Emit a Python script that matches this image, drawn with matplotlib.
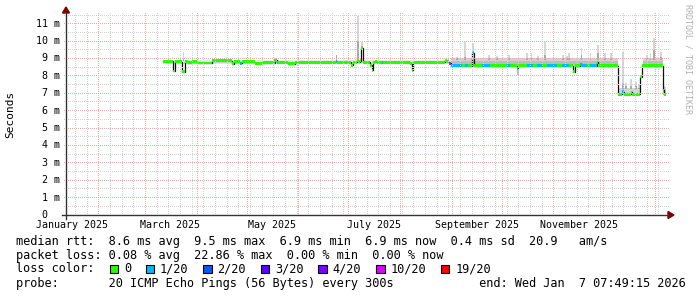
import numpy as np
import matplotlib
matplotlib.use("Agg")
import matplotlib.pyplot as plt
from matplotlib import transforms
from matplotlib.colors import to_rgb
from matplotlib.patches import Polygon, Rectangle

# time is counted in days from 2025-01-01 00:00 (local time)
end_day = 371 + (7 * 3600 + 49 * 60 + 15) / 86400.0
span_days = 360

# median rtt (ms), as steps: start day, value, loss index
med_start = [69.5, 75.5, 76.7, 77.9, 80.9, 82.7, 84.5, 86.9, 89.9, 98.9,
             110.9, 112.1, 115.7, 116.9, 124.7, 128.9, 136.7, 137.9, 138.5, 144.5,
             148.7, 173.3, 173.9, 182.3, 183.5, 185.9, 186.5, 187.7, 188.3, 189.5,
             193.7, 194.9, 195.5, 196.7, 197.9, 201.2, 201.8, 217.7, 218.9, 219.5,
             238.7, 239.9, 241.1, 242.3, 248.9, 250.7, 252.5, 254.9, 255.9, 260.9,
             265.7, 276.0, 278.0, 281.7, 282.7, 287.7, 291.7, 294.0, 297.0, 300.0,
             306.0, 309.0, 313.0, 315.7, 316.7, 319.7, 320.7, 324.0, 326.0, 329.7,
             330.7, 342.7, 345.1, 345.9, 350.3, 351.1, 355.7, 356.7, 369.3, 369.9]
med_ms = [8.83, 8.28, 8.85, 8.81, 8.24, 8.81, 8.75, 8.81, 8.74, 8.87,
          8.70, 8.80, 8.72, 8.80, 8.72, 8.76, 8.90, 8.77, 8.77, 8.70,
          8.77, 8.85, 8.77, 8.62, 8.77, 8.87, 8.80, 8.87, 9.60, 8.77,
          8.62, 8.33, 8.77, 8.85, 8.77, 8.77, 8.77, 8.70, 8.33, 8.77,
          8.87, 8.80, 8.72, 8.58, 8.58, 8.58, 8.58, 9.33, 8.58, 8.58,
          8.58, 8.58, 8.58, 8.43, 8.58, 8.58, 8.58, 8.58, 8.58, 8.58,
          8.58, 8.58, 8.58, 8.24, 8.58, 8.66, 8.58, 8.58, 8.58, 8.78,
          8.58, 6.94, 7.10, 6.94, 7.05, 6.94, 7.95, 8.58, 7.18, 6.94]
med_loss = [0, 0, 0, 0, 0, 0, 0, 0, 0, 0,
            0, 0, 1, 0, 0, 0, 0, 1, 0, 0,
            0, 1, 0, 0, 0, 0, 0, 0, 0, 0,
            0, 0, 0, 0, 0, 1, 0, 0, 0, 0,
            0, 0, 5, 1, 0, 1, 0, 1, 0, 1,
            0, 1, 0, 1, 0, 1, 0, 1, 0, 1,
            0, 1, 0, 0, 0, 1, 1, 0, 1, 0,
            0, 0, 1, 0, 0, 0, 0, 0, 0, 0]

# smoke bands (ms)
smoke_start = [69.5, 242.3, 242.3, 281.7, 342.7, 357.3, 357.3, 369.3]
smoke_end = [242.3, 342.7, 342.7, 283.3, 355.7, 369.3, 369.3, 371.3]
smoke_lo = [8.70, 8.50, 8.55, 8.05, 6.88, 8.52, 8.55, 6.88]
smoke_hi = [8.93, 9.05, 8.88, 8.55, 7.30, 9.05, 8.88, 7.35]
smoke_gray = ["#e6e6e6", "#d2d2d2", "#bcbcbc", "#b8b8b8", "#d4d4d4", "#d2d2d2", "#bcbcbc", "#d0d0d0"]

# smoke spikes (ms)
spike_day = [81.8, 136.9, 173.6, 186.7, 188.9, 245.9, 250.8, 255.4, 265.1, 270.0,
             277.1, 288.0, 290.7, 294.5, 298.7, 309.5, 312.0, 313.0, 320.7, 326.0,
             330.7, 334.7, 338.5, 345.5, 347.5, 350.5, 353.5, 355.0, 360.0, 362.0,
             364.2, 368.3, 370.5]
spike_base = [8.85, 8.85, 8.85, 8.85, 9.60, 8.90, 8.90, 9.33, 8.90, 8.90,
              8.90, 8.90, 8.90, 8.90, 8.90, 8.90, 8.90, 8.90, 8.90, 8.90,
              8.90, 8.90, 8.90, 7.25, 7.25, 7.25, 7.25, 7.25, 8.90, 8.90,
              8.90, 8.90, 7.20]
spike_top = [9.38, 9.02, 9.20, 11.45, 9.95, 9.10, 9.96, 9.90, 9.20, 9.15,
             9.20, 9.30, 9.30, 9.15, 9.96, 9.20, 9.15, 9.30, 9.60, 9.30,
             9.80, 9.30, 9.30, 9.40, 7.60, 7.80, 7.65, 7.50, 9.20, 9.30,
             10.20, 9.38, 7.40]
spike_dark = [8.95, 8.95, 9.20, 10.00, 9.70, 9.00, 9.10, 9.40, 9.00, 9.00,
              9.00, 9.00, 9.00, 9.00, 9.20, 9.00, 9.00, 9.00, 9.20, 9.00,
              9.30, 9.00, 9.00, 7.60, 7.40, 7.40, 7.40, 7.30, 9.00, 9.00,
              9.50, 9.10, 7.25]

loss_labels = ["0", "1/20", "2/20", "3/20", "4/20", "10/20", "19/20"]
loss_colors = ["#26ff00", "#00b8ff", "#0059ff", "#5e00ff", "#7e00ff", "#dd00ff", "#ff0000"]

legend_lines = [
    "median rtt:  8.6 ms avg  9.5 ms max  6.9 ms min  6.9 ms now  0.4 ms sd  20.9   am/s",
    "packet loss: 0.08 % avg  22.86 % max  0.00 % min  0.00 % now",
    "loss color:",
    "probe:       20 ICMP Echo Pings (56 Bytes) every 300s            end: Wed Jan  7 07:49:15 2026",
]

y_max = 11.5
y_major = list(range(0, 12))
y_labels = [" 0"] + ["%2d m" % v for v in y_major[1:]]

W, H = 697, 297
MONO = "DejaVu Sans Mono"
AXIS_C = "#333333"
ARROW_C = "#7f0000"
GRID_C = "#d2d2d2"
MGRID_C = "#f0a8a8"


def fx(px):
    return px / W


def fy(py):
    return 1 - py / H


fig = plt.figure(figsize=(W / 100, H / 100), dpi=100, facecolor="white")
ax = fig.add_axes([fx(66), fy(215), 600 / W, 200 / H])
ax.patch.set_alpha(0)
x0 = end_day - span_days
ax.set_xlim(x0, end_day)
ax.set_ylim(0, y_max)
for s in ax.spines.values():
    s.set_visible(False)
ax.set_xticks([])
ax.set_yticks([])

# dotted grid (1 px on / 1 px off), painted pixel by pixel under the axes
months = np.arange("2025-01", "2026-02", dtype="datetime64[M]")
month_day = (months.astype("datetime64[D]") - np.datetime64("2025-01-01")).astype(int)
weeks = np.arange(3, end_day, 7)  # Saturdays
grid_img = np.zeros((H, W, 4))


def col_of(d):
    return int(np.floor(ax.transData.transform((d, 0))[0]))


def row_of(v):
    return int(np.floor(H - ax.transData.transform((x0, v))[1]))


def vdots(d, color):
    c = col_of(d)
    rows = np.arange(13, 215, 2)
    grid_img[rows, c, :3] = to_rgb(color)
    grid_img[rows, c, 3] = 1


def hdots(v, color):
    r = row_of(v)
    cols = np.arange(64, 669, 2)
    grid_img[r, cols, :3] = to_rgb(color)
    grid_img[r, cols, 3] = 1


for d in weeks:
    if d > x0:
        vdots(d, GRID_C)
for v in np.arange(0.5, y_max + 0.01, 1.0):
    hdots(v, GRID_C)
for d in month_day:
    if d > x0:
        vdots(d, MGRID_C)
for v in y_major[1:]:
    hdots(v, MGRID_C)
fig.figimage(grid_img, xo=0, yo=0, origin="upper", zorder=0)

# smoke
s_start = np.array(smoke_start)
s_end = np.array(smoke_end)
ax.bar(s_start, np.array(smoke_hi) - np.array(smoke_lo), width=s_end - s_start,
       bottom=smoke_lo, align="edge", color=smoke_gray, linewidth=0, zorder=2)
sp_day = np.array(spike_day)
ax.bar(sp_day, np.array(spike_top) - np.array(spike_base), width=1.0, bottom=spike_base,
       color="#d6d6d6", linewidth=0, zorder=2.1)
ax.bar(sp_day, np.array(spike_dark) - np.array(spike_base), width=1.0, bottom=spike_base,
       color="#a8a8a8", linewidth=0, zorder=2.2)

# median line and loss-coloured band
m_start = np.array(med_start)
m_end = np.append(m_start[1:], end_day)
m_val = np.array(med_ms)
ax.plot(np.append(m_start, end_day), np.append(m_val, m_val[-1]), drawstyle="steps-post",
        color="#101010", lw=0.9, zorder=3)
half = 0.085
ax.bar(m_start, 2 * half, width=m_end - m_start, bottom=m_val - half, align="edge",
       color=[loss_colors[i] for i in med_loss], linewidth=0, zorder=4)

# axes with arrows
fig.add_artist(plt.Line2D([fx(62), fx(669)], [fy(215), fy(215)], color=AXIS_C, lw=1.0))
fig.add_artist(plt.Line2D([fx(66), fx(66)], [fy(219), fy(12)], color=AXIS_C, lw=1.0))
fig.add_artist(Polygon([(fx(668), fy(211.5)), (fx(668), fy(218.5)), (fx(674), fy(215))],
                       closed=True, color=ARROW_C, transform=fig.transFigure))
fig.add_artist(Polygon([(fx(62.5), fy(13)), (fx(69.5), fy(13)), (fx(66), fy(7))],
                       closed=True, color=ARROW_C, transform=fig.transFigure))

# y tick labels
ty = transforms.blended_transform_factory(fig.transFigure, ax.transData)
for v, lab in zip(y_major, y_labels):
    ax.text(fx(36), v, lab, transform=ty, ha="left", va="center",
            family=MONO, fontsize=7.2, color="black")

# x labels, centred half a month after the month start
tx = transforms.blended_transform_factory(ax.transData, fig.transFigure)
for m, d in zip(months[::2], month_day[::2]):
    if d + 15 > end_day:
        continue
    name = m.astype(object).strftime("%B %Y")
    ax.text(d + 15, fy(225), name, transform=tx, ha="center", va="center",
            family=MONO, fontsize=7.2, color="black", clip_on=False)

fig.text(fx(10), fy(114), "Seconds", rotation=90, ha="center", va="center",
         family=MONO, fontsize=8, color="black")
fig.text(fx(688), fy(4), "RRDTOOL / TOBI OETIKER", rotation=270, ha="center", va="top",
         family=MONO, fontsize=6, color="#b0b0b0")

# legend
charw = 7.2
row_y = [241, 255, 269, 283]
for line, yy in zip(legend_lines, row_y):
    fig.text(fx(16), fy(yy), line, ha="left", va="center", family=MONO,
             fontsize=8.6, color="black")
col = 13
for lab, c in zip(loss_labels, loss_colors):
    bx = 16 + col * charw
    fig.add_artist(Rectangle((fx(bx), fy(273)), 8.5 / W, 8.5 / H, transform=fig.transFigure,
                             facecolor=c, edgecolor="black", lw=0.8))
    fig.text(fx(16 + (col + 2) * charw), fy(row_y[2]), lab, ha="left", va="center",
             family=MONO, fontsize=8.6, color="black")
    col += 2 + len(lab) + 2

fig.savefig("out.png", dpi=100, facecolor="white")
